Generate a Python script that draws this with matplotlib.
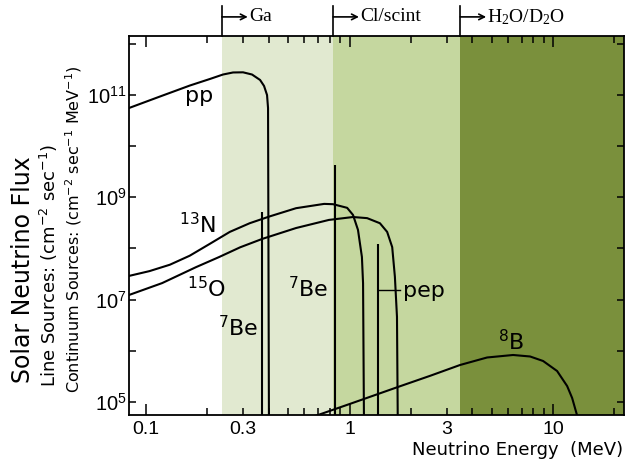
import matplotlib
matplotlib.use("Agg")
import matplotlib.pyplot as plt
from matplotlib import font_manager
from matplotlib.ticker import FixedLocator, FuncFormatter, NullFormatter
import numpy as np

# continuum spectra (energy in MeV, flux)
pp_E = [0.0825, 0.1172, 0.1644, 0.2062, 0.2389, 0.2676, 0.2997, 0.3318, 0.3634, 0.3801, 0.3932, 0.3977, 0.4022]
pp_F = [5.52e10, 9.27e10, 1.52e11, 2.04e11, 2.49e11, 2.73e11, 2.75e11, 2.49e11, 1.95e11, 1.49e11, 9.9e10, 5.52e10, 1e4]

n13_E = [0.0825, 0.104, 0.131, 0.164, 0.206, 0.258, 0.323, 0.404, 0.546, 0.750, 0.830, 0.973, 1.04, 1.10, 1.15, 1.165, 1.18]
n13_F = [2.9e7, 3.6e7, 4.8e7, 7.2e7, 1.23e8, 2.1e8, 3.1e8, 4.2e8, 6.1e8, 7.4e8, 7.3e8, 6.2e8, 4.5e8, 2.3e8, 6.8e7, 2.1e7, 1e4]

o15_E = [0.0825, 0.120, 0.176, 0.229, 0.290, 0.372, 0.546, 0.792, 1.04, 1.22, 1.41, 1.53, 1.62, 1.67, 1.71, 1.73]
o15_F = [1.23e7, 2.1e7, 4.3e7, 6.8e7, 1.05e8, 1.53e8, 2.5e8, 3.6e8, 4.1e8, 3.9e8, 3.1e8, 2.1e8, 1.06e8, 2.8e7, 4.6e6, 1e4]

b8_E = [0.64, 0.70, 1.006, 1.77, 2.49, 3.49, 4.74, 6.36, 7.71, 8.93, 10.46, 11.72, 12.4, 13.1]
b8_F = [4.9e4, 5.57e4, 9.2e4, 2.03e5, 3.25e5, 5.28e5, 7.4e5, 8.28e5, 7.74e5, 6.32e5, 4.03e5, 2.05e5, 1.2e5, 5.57e4]

# line sources: 7Be (two lines) and pep
line_E = [0.372, 0.849, 1.38]
line_F = [5.1e8, 4.3e9, 1.22e8]

# detector thresholds / shaded bands
band_edges = [0.236, 0.83, 3.5, 22.3]
band_colors = ["#e1e9d0", "#c5d79f", "#7a903c"]
detectors = ["Ga", "Cl/scint", "H$_2$O/D$_2$O"]

# curve labels: (text, E, flux at baseline)
curve_labels = [
    ("pp", 0.156, 7.2e10),
    ("$^{13}$N", 0.145, 2.0e8),
    ("$^{15}$O", 0.159, 1.12e7),
    ("$^{7}$Be", 0.226, 1.95e6),
    ("$^{7}$Be", 0.499, 1.12e7),
    ("pep", 1.83, 1.12e7),
    ("$^{8}$B", 5.37, 1.04e6),
]

plt.rcParams["mathtext.default"] = "regular"
plt.rcParams["font.family"] = "DejaVu Sans"

installed = {f.name for f in font_manager.fontManager.ttflist}
tick_font = "Liberation Sans Narrow" if "Liberation Sans Narrow" in installed else "Liberation Sans"

fig = plt.figure(figsize=(6.26, 4.66), dpi=100)
ax = fig.add_axes([129 / 626, 51 / 466, 495 / 626, 379.5 / 466])
ax.set_xscale("log")
ax.set_yscale("log")
ax.set_xlim(0.0825, 22.3)
ax.set_ylim(5.57e4, 1.44e12)

for i, c in enumerate(band_colors):
    ax.axvspan(band_edges[i], band_edges[i + 1], color=c, lw=0, zorder=0)

lw = 1.5
for E, F in [(pp_E, pp_F), (n13_E, n13_F), (o15_E, o15_F), (b8_E, b8_F)]:
    ax.plot(E, F, color="black", lw=lw, zorder=3, solid_joinstyle="round")
ax.vlines(line_E, 1e4, line_F, color="black", lw=lw, zorder=3)
# small leader from the pep line to its label
ax.plot([line_E[2], 1.77], [1.54e7, 1.54e7], color="black", lw=1.0, zorder=3)

for txt, x, y in curve_labels:
    ax.text(x, y, txt, fontsize=16, ha="left", va="baseline", zorder=4)

# axis ticks
ax.xaxis.set_major_locator(FixedLocator([0.1, 1, 10]))
ax.xaxis.set_minor_locator(FixedLocator([0.2, 0.3, 0.4, 0.5, 0.6, 0.7, 0.8, 0.9,
                                         2, 3, 4, 5, 6, 7, 8, 9, 20]))
ax.xaxis.set_major_formatter(FuncFormatter(lambda v, p: f"{v:g}"))
ax.xaxis.set_minor_formatter(FuncFormatter(lambda v, p: f"{v:g}" if v in (0.3, 3) else ""))
ax.yaxis.set_major_locator(FixedLocator([10.0 ** k for k in range(5, 13)]))
ax.yaxis.set_minor_locator(FixedLocator([]))
ax.yaxis.set_major_formatter(FuncFormatter(
    lambda v, p: f"$10^{{{int(round(np.log10(v)))}}}$" if int(round(np.log10(v))) % 2 == 1 else ""))
ax.yaxis.set_minor_formatter(NullFormatter())

ax.tick_params(axis="x", which="major", direction="in", top=True, length=8, width=1.1,
               labelsize=14, pad=4, labelfontfamily=tick_font)
ax.tick_params(axis="x", which="minor", direction="in", top=True, length=5, width=1.1,
               labelsize=14, pad=4, labelfontfamily=tick_font)
ax.tick_params(axis="y", which="major", direction="in", right=True, length=5, width=1.1,
               labelsize=14.5, pad=1.5, labelfontfamily=tick_font)
for s in ax.spines.values():
    s.set_linewidth(1.3)

# detector thresholds above the frame
xtrans = ax.get_xaxis_transform()
for E, name in zip(band_edges[:3], detectors):
    ax.plot([E, E], [1.0, 1.078], transform=xtrans, color="black", lw=1.2, clip_on=False)
    ax.annotate("", xy=(E * 1.34, 1.049), xytext=(E, 1.049), xycoords=xtrans,
                textcoords=xtrans, annotation_clip=False,
                arrowprops=dict(arrowstyle="->", lw=1.2, color="black", shrinkA=0, shrinkB=0))
    ax.text(E * 1.36, 1.049, name, transform=xtrans, ha="left", va="center",
            fontsize=14, family="Liberation Serif")

fig.text(623 / 626, (466 - 450) / 466, "Neutrino Energy  (MeV)", ha="right", va="center",
         fontsize=13)
fig.text(23 / 626, (466 - 383) / 466, "Solar Neutrino Flux", rotation=90,
         ha="center", va="bottom", fontsize=17)
fig.text(49 / 626, (466 - 387) / 466, "Line Sources: (cm$^{-2}$ sec$^{-1}$)", rotation=90,
         ha="center", va="bottom", fontsize=13)
fig.text(74 / 626, (466 - 393) / 466, "Continuum Sources: (cm$^{-2}$ sec$^{-1}$ MeV$^{-1}$)",
         rotation=90, ha="center", va="bottom", fontsize=11.5)

fig.savefig("out.png", dpi=100)
